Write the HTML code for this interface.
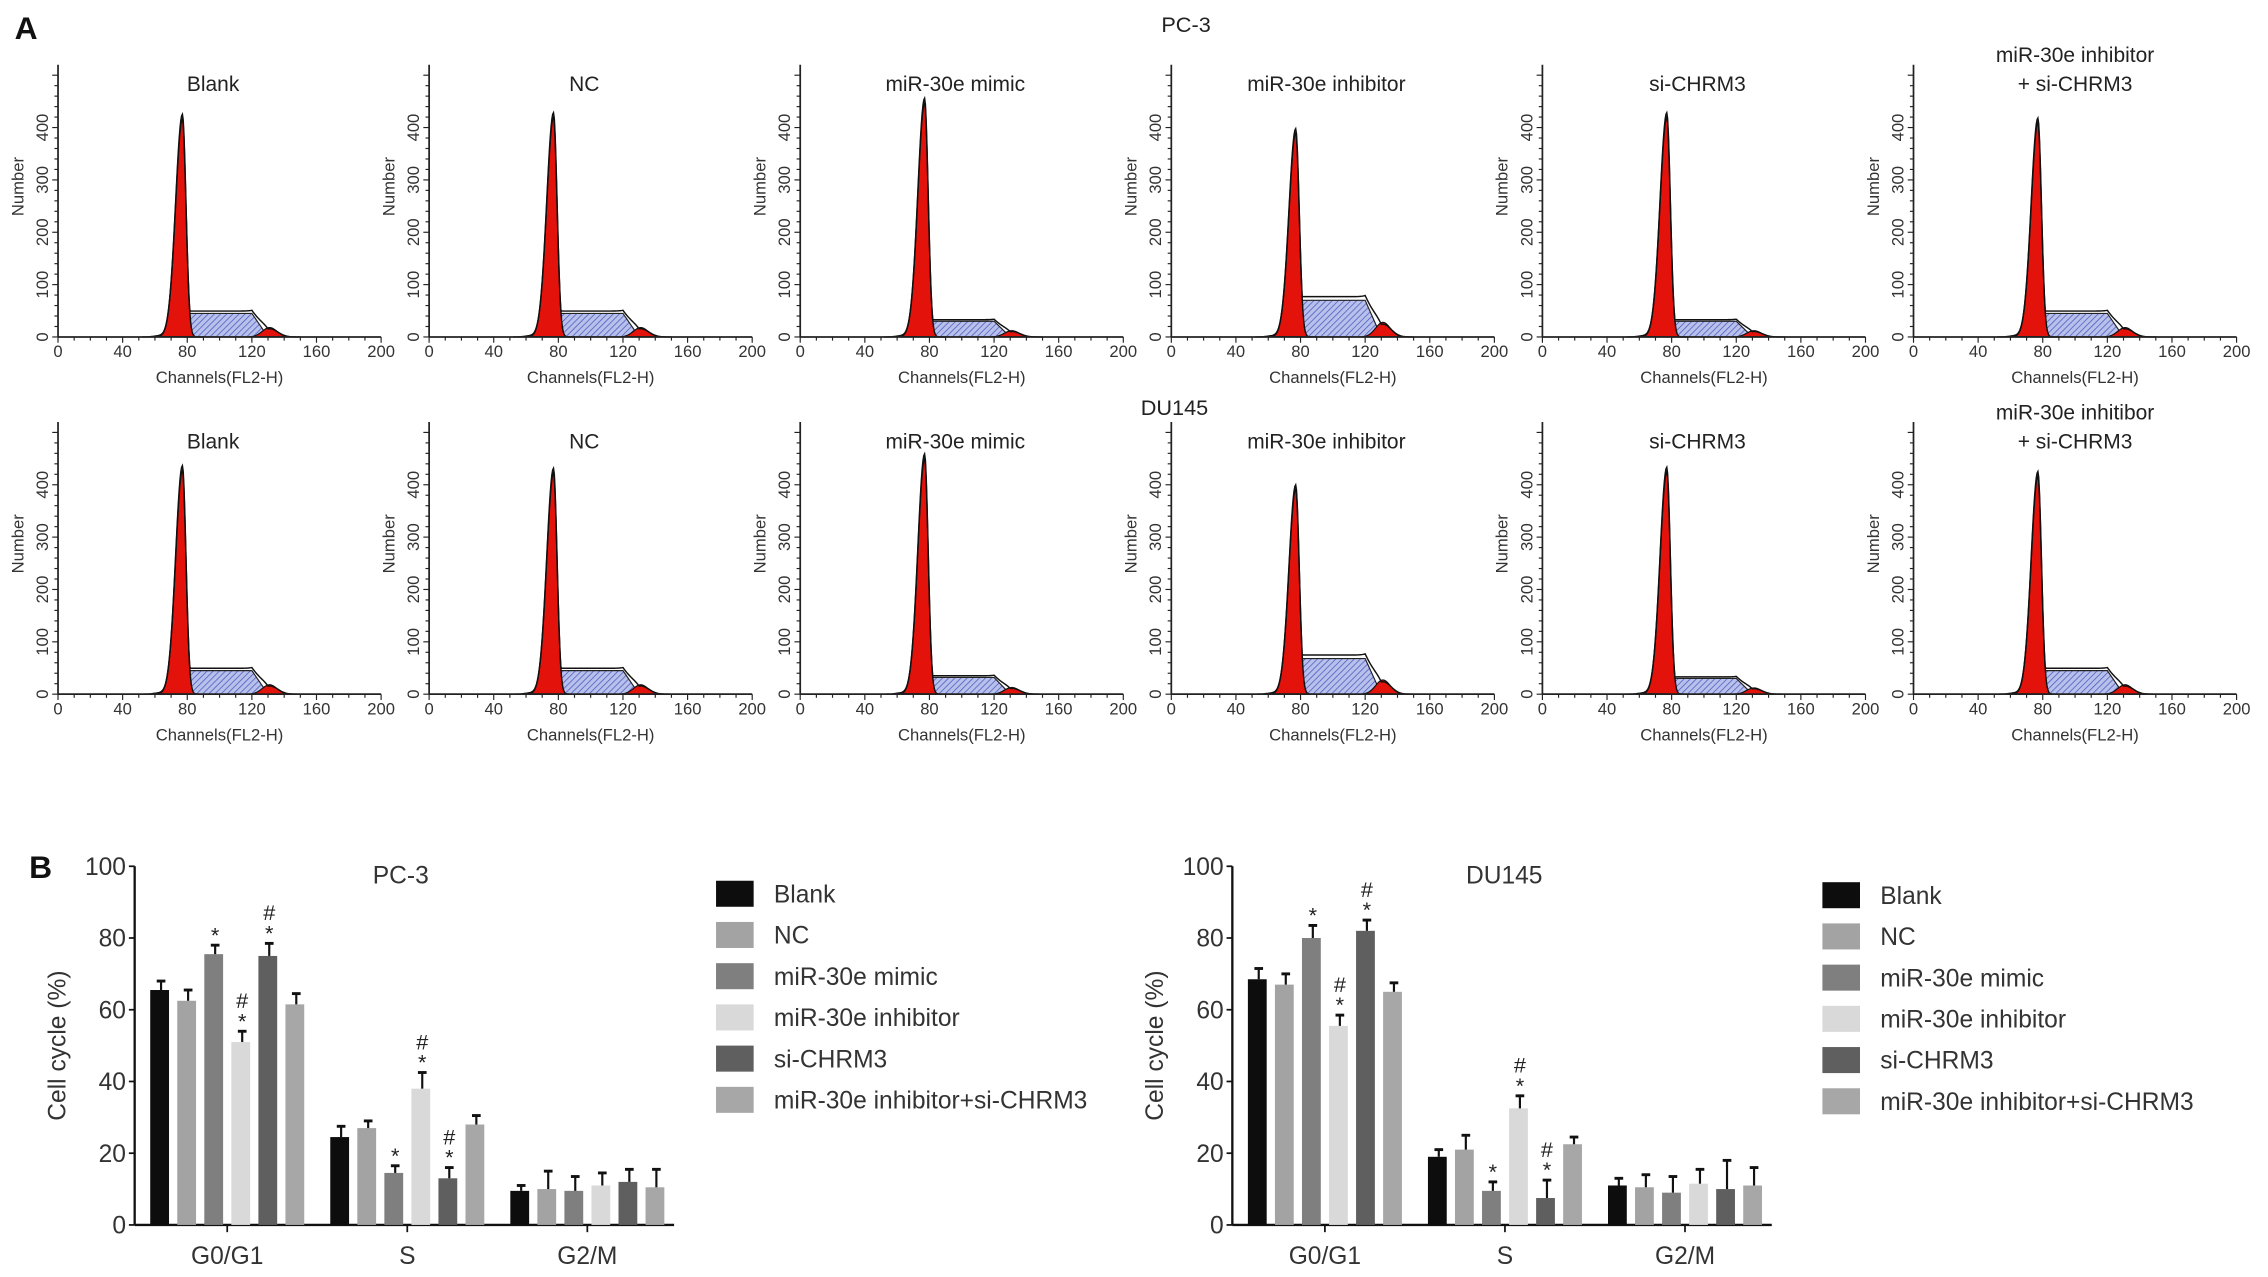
<!DOCTYPE html>
<html><head><meta charset="utf-8"><title>Cell cycle figure</title>
<style>
html,body{margin:0;padding:0;background:#fff;}
svg{display:block;font-family:"Liberation Sans",Arial,sans-serif;}
</style></head>
<body>
<svg id="fig" width="2268" height="1277" viewBox="0 0 1568 883" xmlns="http://www.w3.org/2000/svg">
<defs>
<pattern id="hatch" patternUnits="userSpaceOnUse" width="3" height="3" patternTransform="rotate(45)">
<rect width="3" height="3" fill="#b8c0ec"/>
<line x1="0" y1="0" x2="0" y2="3" stroke="#4a56b8" stroke-width="1"/>
</pattern>
</defs>
<g id="root"></g>
</svg>
<script>
// ---------- Histogram data (panel A) ----------
const histTitles = ["Blank","NC","miR-30e mimic","miR-30e inhibitor","si-CHRM3","miR-30e inhibitor|+ si-CHRM3"];
const histTitles2 = ["Blank","NC","miR-30e mimic","miR-30e inhibitor","si-CHRM3","miR-30e inhitibor|+ si-CHRM3"];
const rowLabels = ["PC-3","DU145"];
const g1PeakPC3 = [417,420,447,390,420,410];
const g1PeakDU = [428,423,450,392,425,417];
const sLevelPC3 = [45,45,30,70,30,45];
const sLevelDU = [45,45,32,68,30,45];
const xTickLabels = [0,40,80,120,160,200];
const yTickLabels = [0,100,200,300,400];

// ---------- Bar data (panel B) ----------
const groups = ["Blank","NC","miR-30e mimic","miR-30e inhibitor","si-CHRM3","miR-30e inhibitor+si-CHRM3"];
const phases = ["G0/G1","S","G2/M"];
const barTicks = [0,20,40,60,80,100];
const pc3Values = [[65.5,62.5,75.5,51,75,61.5],[24.5,27,14.5,38,13,28],[9.5,10,9.5,11,12,10.5]];
const pc3Errors = [[2.5,3,2.5,3,3.5,3],[3,2,2,4.5,3,2.5],[1.5,5,4,3.5,3.5,5]];
const duValues = [[68.5,67,80,55.5,82,65],[19,21,9.5,32.5,7.5,22.5],[11,10.5,9,11.5,10,11]];
const duErrors = [[3,3,3.5,3,3,2.5],[2,4,2.5,3.5,5,2],[2,3.5,4.5,4,8,5]];
const pc3Marks = [["","","*","*#","*#",""],["","","*","*#","*#",""],["","","","","",""]];
const duMarks = [["","","*","*#","*#",""],["","","*","*#","*#",""],["","","","","",""]];

const NS="http://www.w3.org/2000/svg";
const root=document.getElementById('root');
function mk(tag,attrs,parent,text){const e=document.createElementNS(NS,tag);for(const k in attrs)e.setAttribute(k,attrs[k]);if(text!==undefined)e.textContent=text;(parent||root).appendChild(e);return e;}

let t=mk('text',{x:10,y:27,'font-size':22,'font-weight':'bold',fill:'#111'},root,'A');


t=mk('text',{x:20,y:607,'font-size':22,'font-weight':'bold',fill:'#111'},root,'B');



function gauss(x,m,s){return Math.exp(-0.5*((x-m)/s)**2);}
function g1shape(v,g1){return g1*(v<77?gauss(v,77,4.2):gauss(v,77,2.2));}

function histogram(ox,base,title,g1,sl,idx){
  const g=mk('g',{});
  
  
  const xs=v=>ox+v*1.117, ys=v=>base-v*0.362;
  const sPts=[[66,0],[76,sl],[120,sl],[130,0]];
  const sp=mk('path',{d:'M'+sPts.map(p=>xs(p[0])+','+ys(p[1])).join('L')+'Z',fill:'url(#hatch)',stroke:'#222','stroke-width':0.8},g);
  
  
  let d='';for(let v=62;v<=90;v+=0.5){d+=(d?'L':'M')+xs(v)+','+ys(g1shape(v,g1));}
  const p1=mk('path',{d:d+'Z',fill:'#e3120b',stroke:'#111','stroke-width':1},g);
  
  
  d='';for(let v=118;v<=144;v+=0.5){const y=sl*0.4*gauss(v,131,4.5);d+=(d?'L':'M')+xs(v)+','+ys(y);}
  const p2=mk('path',{d:d+'Z',fill:'#e3120b',stroke:'#111','stroke-width':0.8},g);
  
  
  d='';for(let v=52;v<=150;v+=0.5){
    let s=0; if(v>=66&&v<=130){s=v<76?sl*(v-66)/10:(v>120?sl*(130-v)/10:sl);}
    let y=Math.max(g1shape(v,g1)*1.02,s*1.1+sl*0.35*gauss(v,131,5))+2*gauss(v,62,3);
    d+=(d?'L':'M')+xs(v)+','+ys(y);}
  const ol=mk('path',{d,fill:'none',stroke:'#111','stroke-width':1},g);
  
  
  mk('line',{x1:ox,y1:base,x2:xs(200),y2:base,stroke:'#222','stroke-width':1.2},g);
  mk('line',{x1:ox,y1:base,x2:ox,y2:ys(520),stroke:'#222','stroke-width':1.2},g);
  for(let v=0;v<=200;v+=10){mk('line',{x1:xs(v),y1:base,x2:xs(v),y2:base+(v%40===0?4:2.5),stroke:'#222','stroke-width':0.8},g);}
  for(let v=0;v<=500;v+=20){mk('line',{x1:ox,y1:ys(v),x2:ox-(v%100===0?4:2.5),y2:ys(v),stroke:'#222','stroke-width':0.8},g);}
  xTickLabels.forEach(v=>{const e=mk('text',{x:xs(v),y:base+14,'font-size':11.5,'text-anchor':'middle',fill:'#333'},g,v);
    
    });
  yTickLabels.forEach(v=>{const e=mk('text',{x:0,y:0,'font-size':11.5,'text-anchor':'middle',fill:'#333',transform:`translate(${ox-7},${ys(v)}) rotate(-90)`},g,v);
    
    });
  let e=mk('text',{x:xs(100),y:base+32,'font-size':11.5,'text-anchor':'middle',fill:'#333'},g,'Channels(FL2-H)');
  
  
  e=mk('text',{x:0,y:0,'font-size':11.5,'text-anchor':'middle',fill:'#333',transform:`translate(${ox-24},${base-104}) rotate(-90)`},g,'Number');
  
  
  const lines=title.split('|');
  lines.forEach((l,i)=>{const tt=mk('text',{x:xs(lines.length>1?100:96),y:(lines.length>1?base-190:base-170)+i*20,'font-size':14.5,'text-anchor':'middle',fill:'#222'},g,l);
    
    });
}
[0,1].forEach(r=>{
  const base=r===0?233:480;
  const tt=mk('text',{x:r===0?820:812,y:r===0?22:287,'font-size':15,'text-anchor':'middle',fill:'#222'},root,rowLabels[r]);
  
  
  for(let i=0;i<6;i++){
    histogram(40+i*256.6,base,(r===0?histTitles:histTitles2)[i],(r===0?g1PeakPC3:g1PeakDU)[i],(r===0?sLevelPC3:sLevelDU)[i],r*6+i);
  }
});

const barColors=["#0d0d0d","#a3a3a3","#7f7f7f","#d9d9d9","#5f5f5f","#a7a7a7"];
function barChart(ax,title,vals,errs,marks,legX,legY,titleX,id){
  const g=mk('g',{});
  
  
  const y0=847, ppu=2.48;
  const ys=v=>y0-v*ppu;
  const grpW=124.5, step=18.7, bw=13;
  const gc=i=>ax+64+i*grpW;
  mk('line',{x1:ax,y1:y0,x2:ax+373,y2:y0,stroke:'#111','stroke-width':1.6},g);
  mk('line',{x1:ax,y1:y0,x2:ax,y2:ys(100),stroke:'#111','stroke-width':1.6},g);
  barTicks.forEach(v=>{mk('line',{x1:ax-4,y1:ys(v),x2:ax,y2:ys(v),stroke:'#111','stroke-width':1.2},g);
    const e=mk('text',{x:ax-6,y:ys(v)+6,'font-size':17,'text-anchor':'end',fill:'#333'},g,v);
    
    });
  let e=mk('text',{x:0,y:0,'font-size':17,'text-anchor':'middle',fill:'#333',transform:`translate(${ax-48},${ys(50)}) rotate(-90)`},g,'Cell cycle (%)');
  
  
  e=mk('text',{x:titleX,y:611,'font-size':17,'text-anchor':'middle',fill:'#333'},g,title);
  
  
  phases.forEach((p,i)=>{
    const c=gc(i);
    mk('line',{x1:c,y1:y0,x2:c,y2:y0+5,stroke:'#111','stroke-width':1.2},g);
    const l=mk('text',{x:c,y:y0+27,'font-size':17,'text-anchor':'middle',fill:'#333'},g,p);
    
    
    vals[i].forEach((v,j)=>{
      const x=c+(j-2.5)*step;
      const r=mk('rect',{x:x-bw/2,y:ys(v),width:bw,height:v*ppu,fill:barColors[j]},g);
      
      
      const top=ys(v+errs[i][j]);
      mk('line',{x1:x+1,y1:ys(v),x2:x+1,y2:top,stroke:'#111','stroke-width':1.5},g);
      mk('line',{x1:x-2,y1:top,x2:x+4,y2:top,stroke:'#111','stroke-width':2},g);
      const m=marks[i][j];
      if(m.includes('*')){const s=mk('text',{x:x+1,y:top-2,'font-size':15,'text-anchor':'middle',fill:'#222'},g,'*');
        
        }
      if(m.includes('#')){const s=mk('text',{x:x+1,y:top-16,'font-size':15,'text-anchor':'middle',fill:'#222'},g,'#');
        
        }
    });
  });
  groups.forEach((n,j)=>{
    const y=legY+j*28.5;
    const r=mk('rect',{x:legX,y:y-9,width:26,height:18,fill:barColors[j]},g);
    
    
    const tx=mk('text',{x:legX+40,y:y+6,'font-size':17,fill:'#333'},g,n);
    
    
  });
}
barChart(93,'PC-3',pc3Values,pc3Errors,pc3Marks,495,618,277,'pc3-bar-chart');
barChart(852,'DU145',duValues,duErrors,duMarks,1260,619,1040,'du145-bar-chart');
</script>
</body></html>
